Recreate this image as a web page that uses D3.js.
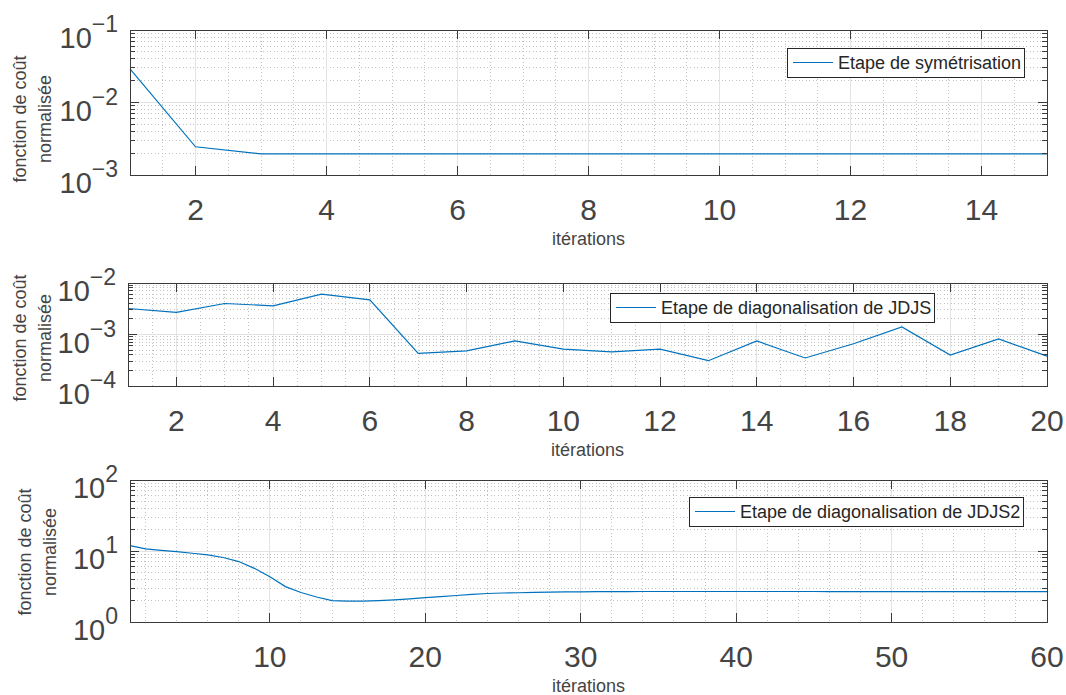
<!DOCTYPE html>
<html>
<head>
<meta charset="utf-8">
<script src="https://cdn.jsdelivr.net/npm/d3@7"></script>
<style>
  body { margin: 0; background: #fff; }
  svg text { font-family: "Liberation Sans", Arial, Helvetica, sans-serif; }
</style>
</head>
<body>
<div id="chart"></div>
<script>
// size of the whole figure
const width = 1066
const height = 695

// cost per iteration (iteration = index + 1)
const symCost = [0.029, 0.00245, 0.00196, 0.00195, 0.00195, 0.00195, 0.00195, 0.00195,
                 0.00195, 0.00195, 0.00195, 0.00195, 0.00195, 0.00195, 0.00195]

const diagCost = [0.0032, 0.0027, 0.0040, 0.0036, 0.0061, 0.0047, 0.00043, 0.00048,
                  0.00075, 0.00052, 0.00046, 0.00052, 0.00031, 0.00075, 0.00035, 0.00066,
                  0.0014, 0.0004, 0.00082, 0.00038]

const diag2Cost = [11.9, 10.7, 10.2, 9.8, 9.3, 8.8, 8.1, 7.1, 5.7, 4.35,
                   3.15, 2.6, 2.25, 2.0, 1.97, 1.97, 2.0, 2.05, 2.12, 2.2,
                   2.28, 2.36, 2.45, 2.52, 2.56, 2.58, 2.61, 2.63, 2.65, 2.66,
                   2.67, 2.68, 2.68, 2.69, 2.69, 2.69, 2.69, 2.69, 2.69, 2.69,
                   2.69, 2.69, 2.69, 2.69, 2.69, 2.68, 2.68, 2.68, 2.68, 2.68,
                   2.68, 2.68, 2.68, 2.68, 2.68, 2.68, 2.68, 2.68, 2.68, 2.68]

// tick labels
const symTicks = [2, 4, 6, 8, 10, 12, 14]
const diagTicks = [2, 4, 6, 8, 10, 12, 14, 16, 18, 20]
const diag2Ticks = [10, 20, 30, 40, 50, 60]

const symDecades = [-3, -2, -1]
const diagDecades = [-4, -3, -2]
const diag2Decades = [0, 1, 2]

const legendNames = ["Etape de symétrisation",
                     "Etape de diagonalisation de JDJS",
                     "Etape de diagonalisation de JDJS2"]
const xLabel = "itérations"
const yLabel = ["fonction de coût", "normalisée"]

const lineColor = "#0072BD"
const textColor = "#444"
const axisColor = "#3a3a3a"

var svg = d3.select("#chart")
            .append("svg")
            .attr("width", width)
            .attr("height", height)

svg.append("rect").attr("width", width).attr("height", height).attr("fill", "#fff")

// one subplot
function drawPanel(p) {
  var n = p.values.length
  var x = d3.scaleLinear().domain([1, n]).range([p.left, p.right])
  var lo = p.decades[0], hi = p.decades[p.decades.length - 1]
  var y = d3.scaleLog().domain([Math.pow(10, lo), Math.pow(10, hi)]).range([p.bottom, p.top])

  var g = svg.append("g")

  // minor grid positions
  var xMinor = d3.range(0, n + 1e-9, p.minorStep).filter(v => v >= 1 && v <= n)
  var yMinor = []
  for (var e = lo; e < hi; e++) {
    for (var k = 2; k <= 9; k++) yMinor.push(k * Math.pow(10, e))
  }

  var minor = g.append("g")
               .attr("stroke", "#c2c2c2")
               .attr("stroke-width", 1)
               .attr("stroke-dasharray", "1,2.5")
               .attr("shape-rendering", "crispEdges")
  minor.selectAll(".xm").data(xMinor).enter().append("line")
       .attr("x1", d => x(d)).attr("x2", d => x(d))
       .attr("y1", p.top).attr("y2", p.bottom)
  minor.selectAll(".ym").data(yMinor).enter().append("line")
       .attr("x1", p.left).attr("x2", p.right)
       .attr("y1", d => y(d)).attr("y2", d => y(d))

  // major grid
  var yMajor = p.decades.map(e => Math.pow(10, e))
  var major = g.append("g")
               .attr("stroke", "#e3e3e3")
               .attr("stroke-width", 1)
               .attr("shape-rendering", "crispEdges")
  major.selectAll(".xg").data(p.ticks).enter().append("line")
       .attr("x1", d => x(d)).attr("x2", d => x(d))
       .attr("y1", p.top).attr("y2", p.bottom)
  major.selectAll(".yg").data(yMajor).enter().append("line")
       .attr("x1", p.left).attr("x2", p.right)
       .attr("y1", d => y(d)).attr("y2", d => y(d))

  // data line
  var line = d3.line()
               .x((d, i) => x(i + 1))
               .y(d => y(d))
  g.append("path")
   .datum(p.values)
   .attr("d", line)
   .attr("fill", "none")
   .attr("stroke", lineColor)
   .attr("stroke-width", 1.2)

  // box and inward ticks
  var ax = g.append("g")
            .attr("stroke", axisColor)
            .attr("stroke-width", 1)
            .attr("shape-rendering", "crispEdges")
  ax.append("rect")
    .attr("x", p.left).attr("y", p.top)
    .attr("width", p.right - p.left).attr("height", p.bottom - p.top)
    .attr("fill", "none")
  ax.selectAll(".xtb").data(p.ticks).enter().append("line")
    .attr("x1", d => x(d)).attr("x2", d => x(d))
    .attr("y1", p.bottom).attr("y2", p.bottom - 9)
  ax.selectAll(".xtt").data(p.ticks).enter().append("line")
    .attr("x1", d => x(d)).attr("x2", d => x(d))
    .attr("y1", p.top).attr("y2", p.top + 9)
  ax.selectAll(".ytl").data(yMajor).enter().append("line")
    .attr("x1", p.left).attr("x2", p.left + 9)
    .attr("y1", d => y(d)).attr("y2", d => y(d))
  ax.selectAll(".ytr").data(yMajor).enter().append("line")
    .attr("x1", p.right).attr("x2", p.right - 9)
    .attr("y1", d => y(d)).attr("y2", d => y(d))
  ax.selectAll(".ymtl").data(yMinor).enter().append("line")
    .attr("x1", p.left).attr("x2", p.left + 5)
    .attr("y1", d => y(d)).attr("y2", d => y(d))
  ax.selectAll(".ymtr").data(yMinor).enter().append("line")
    .attr("x1", p.right).attr("x2", p.right - 5)
    .attr("y1", d => y(d)).attr("y2", d => y(d))

  // x tick labels
  g.selectAll(".xl").data(p.ticks).enter().append("text")
   .attr("x", d => x(d))
   .attr("y", p.bottom + 45)
   .attr("text-anchor", "middle")
   .attr("font-size", 30)
   .attr("fill", textColor)
   .text(d => d)

  // y tick labels 10^e
  p.decades.forEach(function(e) {
    var t = g.append("text")
             .attr("x", p.left - 12)
             .attr("y", y(Math.pow(10, e)) + 18)
             .attr("text-anchor", "end")
             .attr("fill", textColor)
             .attr("font-size", 29)
    t.append("tspan").text("10")
    t.append("tspan")
     .attr("dy", -16)
     .attr("font-size", 23)
     .text(String(e).replace("-", "\u2212"))
  })

  // axis labels
  g.append("text")
   .attr("x", (p.left + p.right) / 2)
   .attr("y", p.bottom + 70)
   .attr("text-anchor", "middle")
   .attr("font-size", 18)
   .attr("fill", textColor)
   .text(xLabel)

  yLabel.forEach(function(s, i) {
    g.append("text")
     .attr("transform", "translate(" + p.ylabX[i] + "," + p.ylabY + ") rotate(-90)")
     .attr("text-anchor", "middle")
     .attr("dominant-baseline", "central")
     .attr("font-size", 18)
     .attr("fill", textColor)
     .text(s)
  })

  // legend
  var leg = g.append("g")
  var box = leg.append("rect")
               .attr("x", p.legX).attr("y", p.legY)
               .attr("height", 29)
               .attr("fill", "#fff")
               .attr("stroke", "#262626")
               .attr("stroke-width", 1)
               .attr("shape-rendering", "crispEdges")
  leg.append("line")
     .attr("x1", p.legX + 6).attr("x2", p.legX + 46)
     .attr("y1", p.legY + 14.5).attr("y2", p.legY + 14.5)
     .attr("stroke", lineColor)
     .attr("stroke-width", 1.2)
  var lt = leg.append("text")
              .attr("x", p.legX + 51)
              .attr("y", p.legY + 14.5)
              .attr("dominant-baseline", "central")
              .attr("font-size", 18)
              .attr("fill", "#262626")
              .text(p.legend)
  box.attr("width", 51 + lt.node().getComputedTextLength() + 3)
}

drawPanel({values: symCost, ticks: symTicks, decades: symDecades, minorStep: 0.5,
           left: 130, right: 1047, top: 30, bottom: 175,
           ylabX: [20, 45], ylabY: 119,
           legend: legendNames[0], legX: 787, legY: 48})

drawPanel({values: diagCost, ticks: diagTicks, decades: diagDecades, minorStep: 0.5,
           left: 128, right: 1047, top: 283, bottom: 386,
           ylabX: [20, 45], ylabY: 338,
           legend: legendNames[1], legX: 610, legY: 293})

drawPanel({values: diag2Cost, ticks: diag2Ticks, decades: diag2Decades, minorStep: 2,
           left: 130, right: 1047, top: 480, bottom: 622,
           ylabX: [25, 50], ylabY: 552,
           legend: legendNames[2], legX: 689, legY: 497})
</script>
</body>
</html>
